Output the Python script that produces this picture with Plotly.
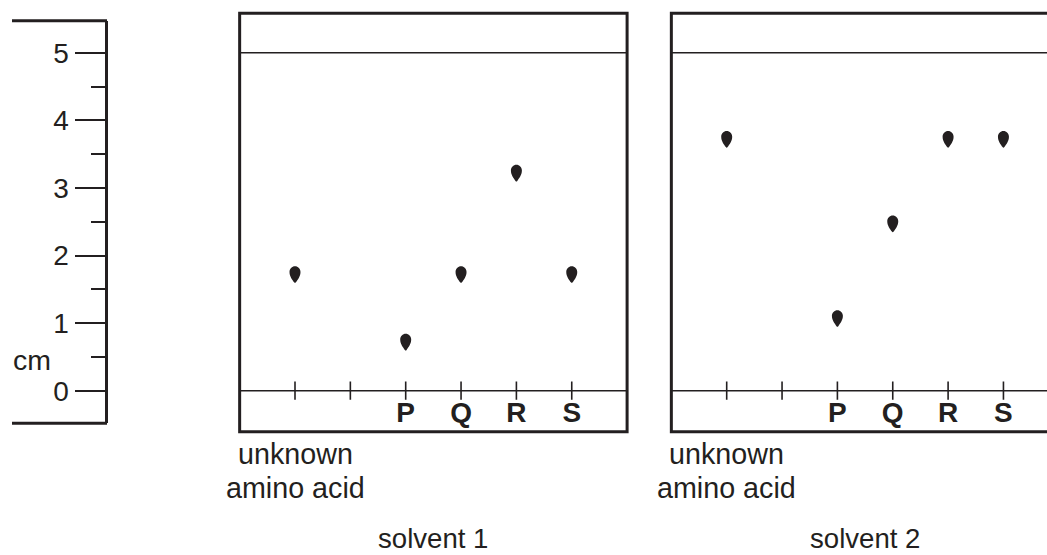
import plotly.graph_objects as go

# ---------------- data ----------------
lanes = [0, 1, 2, 3, 4, 5]
lane_labels = ["", "", "P", "Q", "R", "S"]
spot_lanes = [0, 2, 3, 4, 5]
solvent1_cm = [1.75, 0.75, 1.75, 3.25, 1.75]
solvent2_cm = [3.75, 1.1, 2.5, 3.75, 3.75]
ruler_ticks = [0, 1, 2, 3, 4, 5]
front_cm = 5
origin_cm = 0
panel_titles = ["solvent 1", "solvent 2"]
unknown_label = ["unknown", "amino acid"]
unit_label = "cm"

# ---------------- geometry / style ----------------
W, H = 1047, 555
INK = "#231f20"
FONT = "Liberation Sans, Arial, Helvetica, sans-serif"
PX_PER_CM = 67.6
ORIGIN_PX = 390.7
LANE_PX = 55.35


def fx(px):
    return px / W


def fy(py):
    return 1 - py / H


def cm_at(py):
    return (ORIGIN_PX - py) / PX_PER_CM


box_top, box_bot = 13.3, 431.7
ruler_top, ruler_bot = 20.7, 423.3
ruler_x = 105.5
p1_lane0, p2_lane0 = 295.0, 726.7

fig = go.Figure()

# lane marks crossing the origin line
for xa in ["x", "x2"]:
    fig.add_trace(go.Scatter(
        x=lanes, y=[origin_cm] * len(lanes), mode="markers",
        marker=dict(symbol="line-ns", size=13, line=dict(width=1.6, color=INK)),
        xaxis=xa, yaxis="y", hoverinfo="skip", showlegend=False))

# carrier trace for the ruler axis
fig.add_trace(go.Scatter(x=[None], y=[None], xaxis="x", yaxis="y3",
                         showlegend=False, hoverinfo="skip"))

shapes = []
# panel boxes
shapes.append(dict(type="rect", xref="x domain", yref="y domain", x0=0, x1=1, y0=0, y1=1,
                   line=dict(color=INK, width=3)))
shapes.append(dict(type="rect", xref="x2 domain", yref="y domain", x0=0, x1=1.2, y0=0, y1=1,
                   line=dict(color=INK, width=3)))
# solvent front and origin lines
for xa in ["x", "x2"]:
    for yv in [front_cm, origin_cm]:
        shapes.append(dict(type="line", xref=xa + " domain", yref="y", x0=0, x1=1, y0=yv, y1=yv,
                           line=dict(color=INK, width=1.5)))

# spots (teardrop, round top, blunt pointed bottom) anchored at data points
drop = ("M-0.9,-9.9 Q0,-11 0.9,-9.9 C2.6,-7.4 5.5,-4 5.5,0.5 C5.5,3.7 3,6.2 0,6.2 "
        "C-3,6.2 -5.5,3.7 -5.5,0.5 C-5.5,-4 -2.6,-7.4 -0.9,-9.9 Z")
for xa, vals in [("x", solvent1_cm), ("x2", solvent2_cm)]:
    for ln, v in zip(spot_lanes, vals):
        shapes.append(dict(type="path", xref=xa, yref="y", xsizemode="pixel", ysizemode="pixel",
                           xanchor=ln, yanchor=v, path=drop,
                           fillcolor=INK, line=dict(width=0)))

# ruler end lines
for yv in [0, 1]:
    shapes.append(dict(type="line", xref="paper", yref="y3 domain", x0=fx(12), x1=fx(ruler_x + 1.5),
                       y0=yv, y1=yv, line=dict(color=INK, width=3)))

annotations = []
for xa in ["x", "x2"]:
    annotations.append(dict(text=unknown_label[0], xref=xa, yref="paper", x=lanes[0], y=fy(436),
                            yanchor="top", xanchor="center", showarrow=False,
                            font=dict(size=28.7, family=FONT, color=INK)))
    annotations.append(dict(text=unknown_label[1], xref=xa, yref="paper", x=lanes[0], y=fy(470),
                            yanchor="top", xanchor="center", showarrow=False,
                            font=dict(size=28.7, family=FONT, color=INK)))
for xa, t in zip(["x", "x2"], panel_titles):
    annotations.append(dict(text=t, xref=xa, yref="paper", x=2.5, y=0, borderpad=0,
                            yanchor="bottom", xanchor="center", showarrow=False,
                            font=dict(size=27.6, family=FONT, color=INK)))
annotations.append(dict(text=unit_label, xref="paper", yref="paper", x=fx(32), y=fy(360),
                        yanchor="middle", xanchor="center", showarrow=False,
                        font=dict(size=28.5, family=FONT, color=INK)))

xcommon = dict(tickmode="array", tickvals=lanes, ticktext=lane_labels, showline=False,
               showgrid=False, zeroline=False, ticks="", ticklen=0,
               ticklabelstandoff=2, anchor="free", position=fy(ORIGIN_PX),
               tickfont=dict(size=28, family=FONT, color=INK, weight="bold"), fixedrange=True)

fig.update_layout(
    width=W, height=H, margin=dict(l=0, r=0, t=0, b=0),
    paper_bgcolor="white", plot_bgcolor="rgba(0,0,0,0)",
    xaxis=dict(domain=[fx(p1_lane0 - LANE_PX), fx(p1_lane0 + 6 * LANE_PX)],
               range=[-1, 6], **xcommon),
    xaxis2=dict(domain=[fx(p2_lane0 - LANE_PX), 1],
                range=[-1, (W - p2_lane0) / LANE_PX], **xcommon),
    yaxis=dict(domain=[fy(box_bot), fy(box_top)], range=[cm_at(box_bot), cm_at(box_top)],
               visible=False, fixedrange=True),
    yaxis3=dict(domain=[fy(ruler_bot), fy(ruler_top)], range=[cm_at(ruler_bot), cm_at(ruler_top)],
                anchor="free", position=fx(ruler_x), side="left",
                showline=True, linewidth=3, linecolor=INK,
                tickmode="array", tickvals=ruler_ticks,
                ticks="outside", ticklen=30, tickwidth=1.6, tickcolor=INK,
                minor=dict(dtick=0.5, tick0=0, ticks="outside", ticklen=14, tickwidth=1.6,
                           tickcolor=INK, showgrid=False),
                showgrid=False, zeroline=False,
                tickfont=dict(size=28, family=FONT, color=INK), fixedrange=True),
    shapes=shapes, annotations=annotations, showlegend=False,
)

fig.write_html("out.html", config={"displayModeBar": False},
               post_script="document.body.style.margin='0px';")
